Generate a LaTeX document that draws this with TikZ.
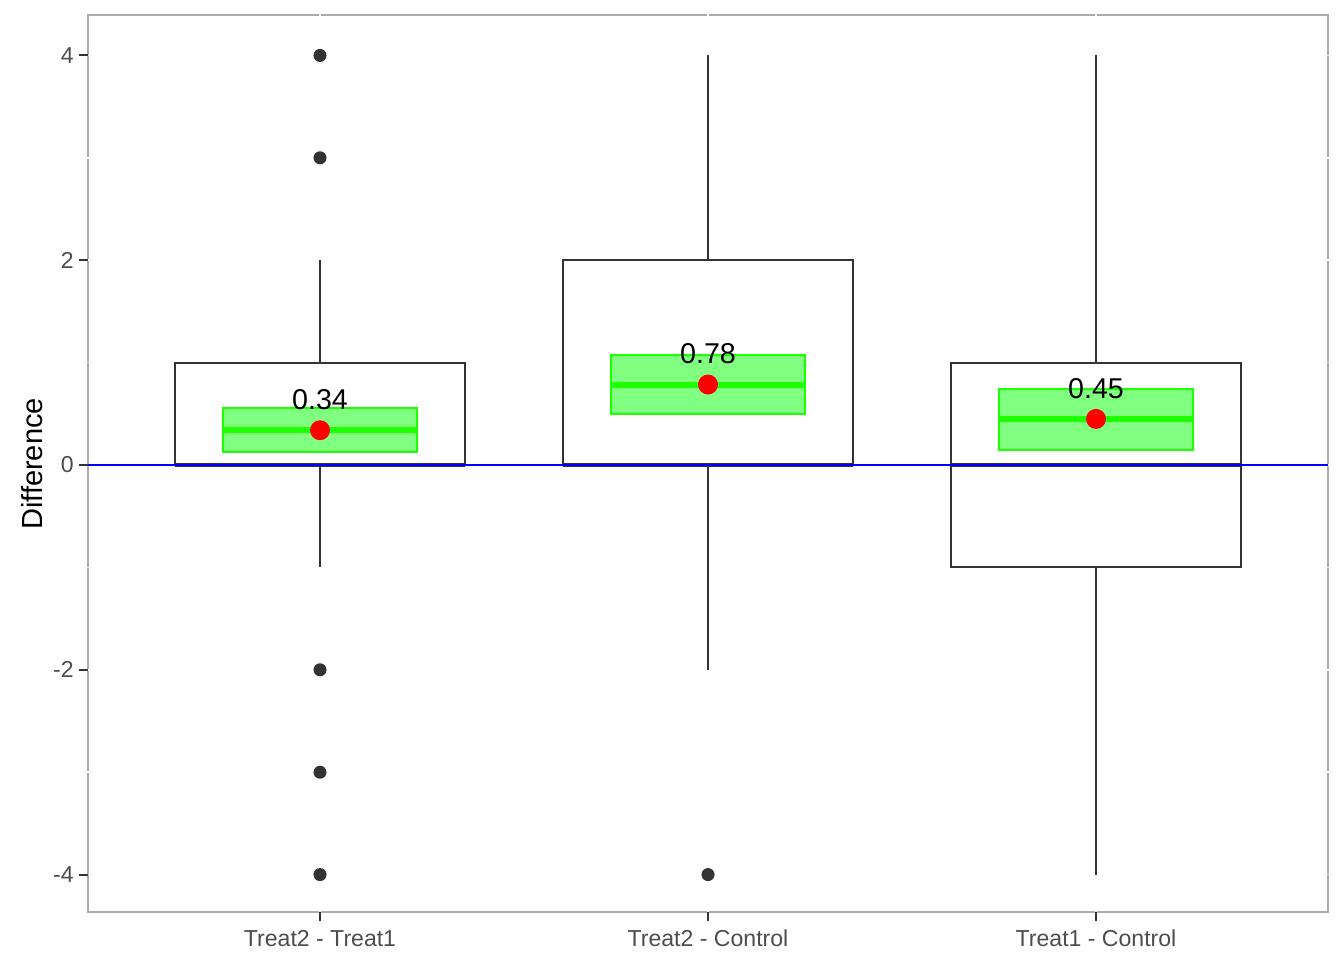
\documentclass[tikz,border=0pt]{standalone}
\usepackage{fontspec}
\setmainfont{Liberation Sans}
\definecolor{bordergray}{HTML}{ABABAB}
\definecolor{ink}{HTML}{333333}
\definecolor{ticktext}{HTML}{4D4D4D}
\definecolor{cigreen}{HTML}{1EFF00}
\definecolor{cifill}{HTML}{80FF80}
\definecolor{meanred}{HTML}{FF0000}
\definecolor{zeroblue}{HTML}{0000FF}
\tikzset{
  panelborder/.style={draw=bordergray, line width=1.5pt},
  gridw/.style={draw=white, line width=1.2pt},
  tickmark/.style={draw=ink, line width=1.5pt},
  whisker/.style={draw=ink, line width=1.5pt},
  boxbody/.style={draw=ink, fill=white, line width=1.5pt},
  medianline/.style={draw=ink, line width=3.2pt},
  outlier/.style={circle, fill=ink, inner sep=0pt, minimum size=9.8pt},
  cibox/.style={draw=cigreen, fill=cifill, line width=1.5pt},
  ciline/.style={draw=cigreen, line width=4.5pt},
  meanpt/.style={circle, fill=meanred, inner sep=0pt, minimum size=15pt},
  meanlbl/.style={inner sep=0pt, font=\fontsize{21.5pt}{24pt}\selectfont, text=black},
  ylbl/.style={anchor=east, inner sep=0pt, font=\fontsize{17.3pt}{20pt}\selectfont, text=ticktext},
  xlbl/.style={inner sep=0pt, font=\fontsize{17.3pt}{20pt}\selectfont, text=ticktext},
  axtitle/.style={inner sep=0pt, font=\fontsize{21.8pt}{24pt}\selectfont, text=black, rotate=90},
  zeroline/.style={draw=zeroblue, line width=1.6pt}
}
\begin{document}
\begin{tikzpicture}[x=0.75pt,y=-0.75pt]
\useasboundingbox (0,0) rectangle (1344,960);
\fill[white] (0,0) rectangle (1344,960);

% panel corners
\coordinate (pTL) at (88,15);
\coordinate (pBR) at (1328,912);
\draw[panelborder] (pTL) rectangle (pBR);

% white grid lines (visible where they cross the border)
\foreach \yy in {55.4,157.8,260.2,362.6,465,567.4,669.8,772.2,874.6}{
  \coordinate (gl) at (85,\yy); \coordinate (gr) at (1331,\yy);
  \draw[gridw] (gl) -- (gr);
}
\foreach \xx in {320,708,1096}{
  \coordinate (gt) at (\xx,12); \coordinate (gb) at (\xx,915);
  \draw[gridw] (gt) -- (gb);
}

% y ticks and labels
\foreach \yy/\lab in {55.4/4,260.2/2,465/0,669.8/-2,874.6/-4}{
  \coordinate (tA) at (79,\yy); \coordinate (tB) at (88,\yy);
  \draw[tickmark] (tA) -- (tB);
  \node[ylbl] (yl\lab) at (74,\yy) {\lab};
}
% x ticks and labels
\foreach \xx/\lab/\nm in {320/Treat2 - Treat1/a,708/Treat2 - Control/b,1096/Treat1 - Control/c}{
  \coordinate (tA) at (\xx,912); \coordinate (tB) at (\xx,921);
  \draw[tickmark] (tA) -- (tB);
  \node[xlbl] (xl\nm) at (\xx,938.5) {\lab};
}
\node[axtitle] (ytitle) at (32,464) {Difference};

% ---- Box 1: Treat2 - Treat1
\coordinate (w1a) at (320,362.6); \coordinate (w1b) at (320,260.2);
\coordinate (w1c) at (320,465); \coordinate (w1d) at (320,567.4);
\draw[whisker] (w1a) -- (w1b);
\draw[whisker] (w1c) -- (w1d);
\coordinate (b1tl) at (175,362.6); \coordinate (b1br) at (465,465);
\draw[boxbody] (b1tl) rectangle (b1br);
\coordinate (m1l) at (175,465); \coordinate (m1r) at (465,465);
\draw[medianline] (m1l) -- (m1r);
\node[outlier] (o1) at (320,55.4) {};
\node[outlier] (o2) at (320,157.8) {};
\node[outlier] (o3) at (320,669.8) {};
\node[outlier] (o4) at (320,772.2) {};
\node[outlier] (o5) at (320,874.6) {};

% ---- Box 2: Treat2 - Control
\coordinate (w2a) at (708,260.2); \coordinate (w2b) at (708,55.4);
\coordinate (w2c) at (708,465); \coordinate (w2d) at (708,669.8);
\draw[whisker] (w2a) -- (w2b);
\draw[whisker] (w2c) -- (w2d);
\coordinate (b2tl) at (563,260.2); \coordinate (b2br) at (853,465);
\draw[boxbody] (b2tl) rectangle (b2br);
\coordinate (m2l) at (563,465); \coordinate (m2r) at (853,465);
\draw[medianline] (m2l) -- (m2r);
\node[outlier] (o6) at (708,874.6) {};

% ---- Box 3: Treat1 - Control
\coordinate (w3a) at (1096,362.6); \coordinate (w3b) at (1096,55.4);
\coordinate (w3c) at (1096,567.4); \coordinate (w3d) at (1096,874.6);
\draw[whisker] (w3a) -- (w3b);
\draw[whisker] (w3c) -- (w3d);
\coordinate (b3tl) at (951,362.6); \coordinate (b3br) at (1241,567.4);
\draw[boxbody] (b3tl) rectangle (b3br);
\coordinate (m3l) at (951,465); \coordinate (m3r) at (1241,465);
\draw[medianline] (m3l) -- (m3r);

% zero line
\coordinate (zl) at (88,465); \coordinate (zr) at (1328,465);
\draw[zeroline] (zl) -- (zr);

% ---- confidence boxes and means
\coordinate (c1tl) at (223,408); \coordinate (c1br) at (417,452);
\draw[cibox] (c1tl) rectangle (c1br);
\coordinate (c1l) at (223,430.2); \coordinate (c1r) at (417,430.2);
\draw[ciline] (c1l) -- (c1r);
\node[meanpt] (mean1) at (320,430.2) {};
\node[meanlbl] (lab1) at (320,400) {0.34};

\coordinate (c2tl) at (611,355); \coordinate (c2br) at (805,413.5);
\draw[cibox] (c2tl) rectangle (c2br);
\coordinate (c2l) at (611,384.5); \coordinate (c2r) at (805,384.5);
\draw[ciline] (c2l) -- (c2r);
\node[meanpt] (mean2) at (708,384.5) {};
\node[meanlbl] (lab2) at (708,354) {0.78};

\coordinate (c3tl) at (999,388.5); \coordinate (c3br) at (1193,450);
\draw[cibox] (c3tl) rectangle (c3br);
\coordinate (c3l) at (999,418.9); \coordinate (c3r) at (1193,418.9);
\draw[ciline] (c3l) -- (c3r);
\node[meanpt] (mean3) at (1096,418.9) {};
\node[meanlbl] (lab3) at (1096,389) {0.45};

\end{tikzpicture}
\end{document}
